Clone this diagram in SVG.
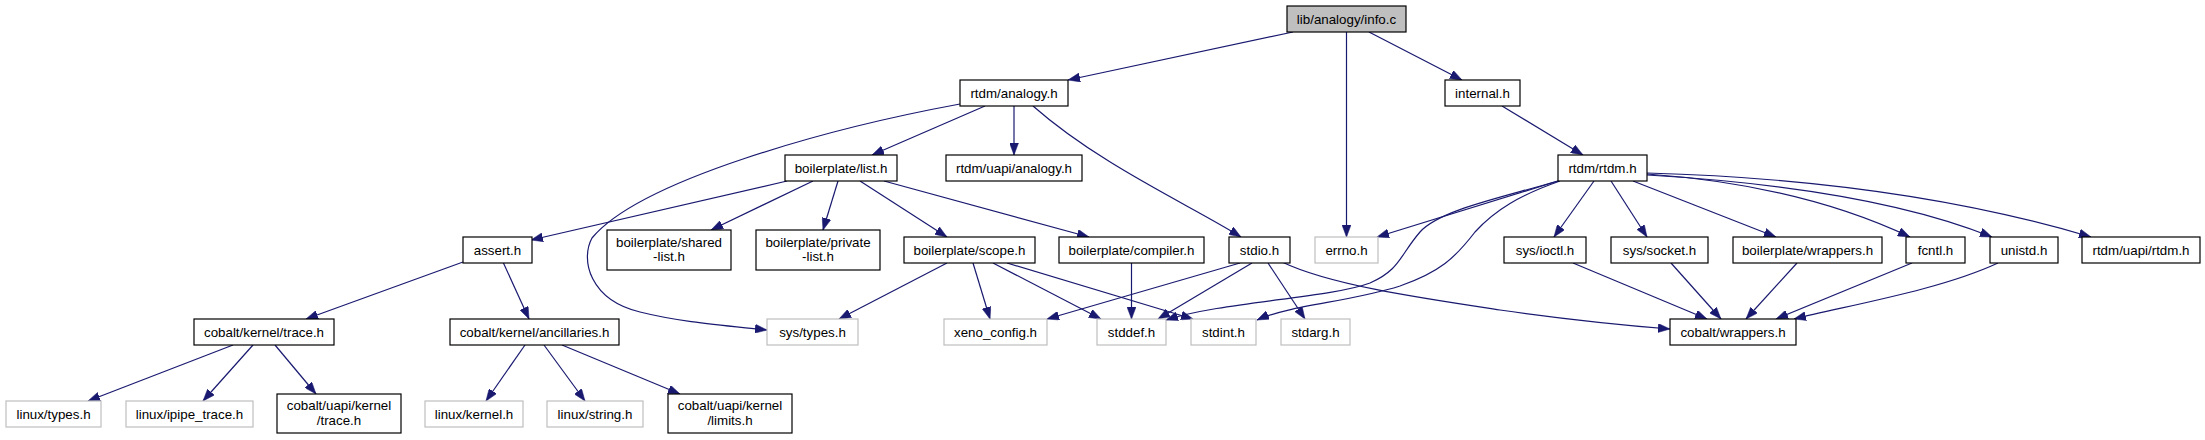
<svg xmlns="http://www.w3.org/2000/svg" width="2205" height="440" viewBox="0 0 2205 440">
<style>
text{font-family:"Liberation Sans",Arial,Helvetica,sans-serif;font-size:13.33px;text-anchor:middle;fill:#000}
.n rect{fill:#fff;stroke:#000;stroke-width:1.2}
.g rect{fill:#fff;stroke:#bfbfbf;stroke-width:1.2}
.r rect{fill:#bfbfbf;stroke:#000;stroke-width:1.2}
#edges path{fill:none;stroke:#191970;stroke-width:1.2;marker-end:url(#a)}
</style>
<defs>
<marker id="a" viewBox="0 0 12 9" markerWidth="12" markerHeight="9" refX="12" refY="4.5" orient="auto" markerUnits="userSpaceOnUse"><path d="M0,0L12,4.5L0,9z" fill="#191970" stroke="#191970" stroke-width="0.5"/></marker>
</defs>
<rect width="2205" height="440" fill="#fff"/>
<g id="edges">
<path d="M1293,32L1068,80"/>
<path d="M1346.5,32L1346.5,237"/>
<path d="M1369,32L1462,80"/>
<path d="M960,104C830,128 640,180 592,238C580,260 590,300 640,312C680,322 720,325 767,330"/>
<path d="M985,106L872,155"/>
<path d="M1014,106L1014,155"/>
<path d="M1033,106C1100,165 1190,205 1241,237"/>
<path d="M787,181L531,240"/>
<path d="M813,181L711,230"/>
<path d="M838,181L823,230"/>
<path d="M860,181L947,237"/>
<path d="M884,181L1089,237"/>
<path d="M463,262L306,319"/>
<path d="M503,262L529,319"/>
<path d="M233,345L88,401"/>
<path d="M253,345L203,401"/>
<path d="M275,345L316,394"/>
<path d="M525,345L486,401"/>
<path d="M544,345L585,401"/>
<path d="M562,345L680,394"/>
<path d="M947,263L839,319"/>
<path d="M973,263L990,319"/>
<path d="M993,263L1101,319"/>
<path d="M1007,263L1193,319"/>
<path d="M1131.5,263L1131.5,319"/>
<path d="M1240,263L1047,319"/>
<path d="M1252,263L1158,319"/>
<path d="M1268,263L1305,319"/>
<path d="M1282,262C1330,285 1420,298 1500,310C1570,320 1620,325 1670,329"/>
<path d="M1502,106L1583,155"/>
<path d="M1558,181L1377,237"/>
<path d="M1558,181C1500,198 1440,210 1420,232C1400,255 1400,270 1370,283C1330,298 1220,302 1166,320"/>
<path d="M1560,181C1520,195 1495,210 1475,232C1455,258 1440,272 1400,286C1350,302 1290,305 1257,320"/>
<path d="M1594,181L1554,237"/>
<path d="M1611,181L1647,237"/>
<path d="M1633,181L1776,237"/>
<path d="M1647,174Q1800,185 1910,237"/>
<path d="M1647,175Q1870,188 1992,237"/>
<path d="M1647,173Q1900,180 2091,237"/>
<path d="M1573,263L1707,319"/>
<path d="M1671,263L1721,319"/>
<path d="M1797,263L1746,319"/>
<path d="M1912,263L1776,319"/>
<path d="M1998,263C1940,290 1850,305 1794,319"/>
</g>
<g id="n_info" class="r"><rect x="1287" y="6" width="119" height="26"/><text x="1346.5" y="24">lib/analogy/info.c</text></g>
<g id="n_rtdm_analogy" class="n"><rect x="960" y="80" width="108" height="26"/><text x="1014" y="98">rtdm/analogy.h</text></g>
<g id="n_internal" class="n"><rect x="1445" y="80" width="75" height="26"/><text x="1482.5" y="98">internal.h</text></g>
<g id="n_list" class="n"><rect x="785" y="155" width="112" height="26"/><text x="841" y="173">boilerplate/list.h</text></g>
<g id="n_uapi_analogy" class="n"><rect x="946" y="155" width="136" height="26"/><text x="1014" y="173">rtdm/uapi/analogy.h</text></g>
<g id="n_rtdm" class="n"><rect x="1558" y="155" width="89" height="26"/><text x="1602.5" y="173">rtdm/rtdm.h</text></g>
<g id="n_assert" class="n"><rect x="463" y="237" width="69" height="26"/><text x="497.5" y="255">assert.h</text></g>
<g id="n_shared" class="n"><rect x="607" y="230" width="124" height="40"/><text x="669" y="246.5">boilerplate/shared</text><text x="669" y="261">-list.h</text></g>
<g id="n_private" class="n"><rect x="756" y="230" width="124" height="40"/><text x="818" y="246.5">boilerplate/private</text><text x="818" y="261">-list.h</text></g>
<g id="n_scope" class="n"><rect x="904" y="237" width="131" height="26"/><text x="969.5" y="255">boilerplate/scope.h</text></g>
<g id="n_compiler" class="n"><rect x="1059" y="237" width="145" height="26"/><text x="1131.5" y="255">boilerplate/compiler.h</text></g>
<g id="n_stdio" class="n"><rect x="1229" y="237" width="61" height="26"/><text x="1259.5" y="255">stdio.h</text></g>
<g id="n_errno" class="g"><rect x="1315" y="237" width="63" height="26"/><text x="1346.5" y="255">errno.h</text></g>
<g id="n_ioctl" class="n"><rect x="1504" y="237" width="82" height="26"/><text x="1545" y="255">sys/ioctl.h</text></g>
<g id="n_socket" class="n"><rect x="1611" y="237" width="97" height="26"/><text x="1659.5" y="255">sys/socket.h</text></g>
<g id="n_bpwrappers" class="n"><rect x="1733" y="237" width="149" height="26"/><text x="1807.5" y="255">boilerplate/wrappers.h</text></g>
<g id="n_fcntl" class="n"><rect x="1906" y="237" width="59" height="26"/><text x="1935.5" y="255">fcntl.h</text></g>
<g id="n_unistd" class="n"><rect x="1990" y="237" width="68" height="26"/><text x="2024" y="255">unistd.h</text></g>
<g id="n_uapi_rtdm" class="n"><rect x="2082" y="237" width="118" height="26"/><text x="2141" y="255">rtdm/uapi/rtdm.h</text></g>
<g id="n_ktrace" class="n"><rect x="194" y="319" width="140" height="26"/><text x="264" y="337">cobalt/kernel/trace.h</text></g>
<g id="n_ancillaries" class="n"><rect x="450" y="319" width="169" height="26"/><text x="534.5" y="337">cobalt/kernel/ancillaries.h</text></g>
<g id="n_systypes" class="g"><rect x="767" y="319" width="91" height="26"/><text x="812.5" y="337">sys/types.h</text></g>
<g id="n_xeno" class="g"><rect x="944" y="319" width="103" height="26"/><text x="995.5" y="337">xeno_config.h</text></g>
<g id="n_stddef" class="g"><rect x="1097" y="319" width="69" height="26"/><text x="1131.5" y="337">stddef.h</text></g>
<g id="n_stdint" class="g"><rect x="1191" y="319" width="65" height="26"/><text x="1223.5" y="337">stdint.h</text></g>
<g id="n_stdarg" class="g"><rect x="1281" y="319" width="69" height="26"/><text x="1315.5" y="337">stdarg.h</text></g>
<g id="n_cwrappers" class="n"><rect x="1670" y="319" width="126" height="26"/><text x="1733" y="337">cobalt/wrappers.h</text></g>
<g id="n_ltypes" class="g"><rect x="6" y="401" width="95" height="26"/><text x="53.5" y="419">linux/types.h</text></g>
<g id="n_ipipe" class="g"><rect x="126" y="401" width="127" height="26"/><text x="189.5" y="419">linux/ipipe_trace.h</text></g>
<g id="n_utrace" class="n"><rect x="277" y="394" width="124" height="39"/><text x="339" y="410">cobalt/uapi/kernel</text><text x="339" y="425">/trace.h</text></g>
<g id="n_lkernel" class="g"><rect x="425" y="401" width="98" height="26"/><text x="474" y="419">linux/kernel.h</text></g>
<g id="n_lstring" class="g"><rect x="547" y="401" width="96" height="26"/><text x="595" y="419">linux/string.h</text></g>
<g id="n_limits" class="n"><rect x="668" y="394" width="124" height="39"/><text x="730" y="410">cobalt/uapi/kernel</text><text x="730" y="425">/limits.h</text></g>
</svg>
